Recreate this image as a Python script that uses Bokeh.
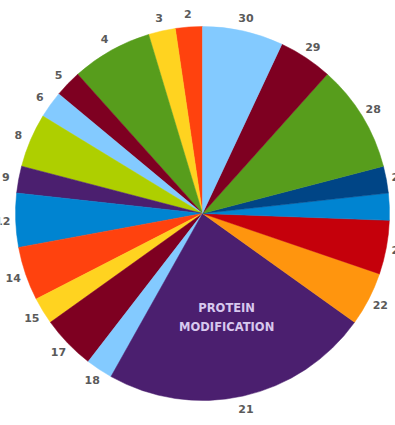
import numpy as np
from bokeh.plotting import figure
from bokeh.models import Range1d, ColumnDataSource
from bokeh.core.properties import value
from bokeh.embed import file_html
from bokeh.resources import INLINE

# ---- data ----
categories = ["2", "3", "4", "5", "6", "8", "9", "12", "14", "15",
              "17", "18", "21", "22", "23", "24", "25", "28", "29", "30"]
values = [1, 1, 3, 1, 1, 2, 1, 2, 2, 1,
          2, 1, 10, 2, 2, 1, 1, 4, 2, 3]
# LibreOffice default chart palette, cycled by category number
palette = ["#004586", "#ff420e", "#ffd320", "#579d1c", "#7e0021", "#83caff",
           "#314004", "#aecf00", "#4b1f6f", "#ff950e", "#c5000b", "#0084d1"]
highlight_category = "21"
highlight_text = "PROTEIN\nMODIFICATION"

# ---- geometry ----
W, H = 395, 425
cx, cy = 202, 212
R = 187
label_r = 200

vals = np.array(values, dtype=float)
cum = np.concatenate([[0], np.cumsum(vals)])
total = cum[-1]
start = np.pi / 2 + 2 * np.pi * cum[:-1] / total
end = np.pi / 2 + 2 * np.pi * cum[1:] / total
mid = (start + end) / 2
colors = [palette[(int(c) - 1) % len(palette)] for c in categories]

src = ColumnDataSource(dict(
    cat=categories, start=start, end=end, color=colors,
    lx=cx + label_r * np.cos(mid), ly=cy + label_r * np.sin(mid),
))

p = figure(width=W, height=H, output_backend="svg", toolbar_location=None,
           x_range=Range1d(0, W), y_range=Range1d(0, H), min_border=0,
           match_aspect=False)
p.axis.visible = False
p.grid.visible = False
p.outline_line_color = None
p.background_fill_color = "white"
p.border_fill_color = "white"

p.wedge(x=cx, y=cy, radius=R, start_angle="start", end_angle="end",
        direction="anticlock", fill_color="color", line_color="color",
        line_width=0.5, source=src)

p.text(x="lx", y="ly", text="cat", source=src, text_align="center",
       text_baseline="middle", text_font=value("DejaVu Sans"),
       text_font_size="11px", text_font_style="bold", text_color="#5a5a5a")

hi = categories.index(highlight_category)
hr = 0.57 * R
p.text(x=[cx + hr * np.cos(mid[hi]) + 1], y=[cy + hr * np.sin(mid[hi])],
       text=[highlight_text], text_align="center", text_baseline="middle",
       text_font=value("DejaVu Sans"), text_font_size="11.5px",
       text_font_style="bold", text_color="#d8c8ee", text_line_height=1.35)

open("out.html", "w").write(file_html(p, INLINE))
